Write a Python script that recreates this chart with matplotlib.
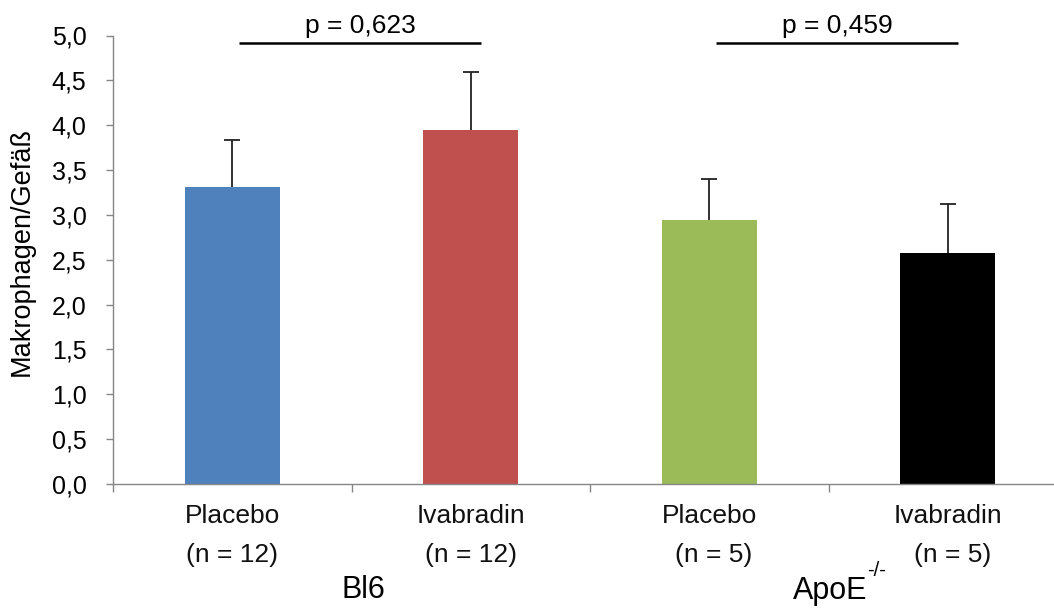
import matplotlib
matplotlib.use("Agg")
import matplotlib.pyplot as plt
from matplotlib.transforms import blended_transform_factory
import numpy as np

# Data
treatments = ["Placebo", "Ivabradin", "Placebo", "Ivabradin"]
n_labels = ["(n = 12)", "(n = 12)", "(n = 5)", "(n = 5)"]
means = [3.31, 3.95, 2.94, 2.57]
sem = [0.53, 0.64, 0.46, 0.55]
groups = ["Bl6", "ApoE"]
group_sup = "-/-"
p_values = ["p = 0,623", "p = 0,459"]
p_pairs = [(0, 1), (2, 3)]
yticks = [0.0, 0.5, 1.0, 1.5, 2.0, 2.5, 3.0, 3.5, 4.0, 4.5, 5.0]
ylabel = "Makrophagen/Gefäß"

bar_colors = ["#4F81BD", "#C0504D", "#9BBB59", "#000000"]

plt.rcParams["font.family"] = ["Liberation Sans", "DejaVu Sans"]

W, H = 1054, 608
fig = plt.figure(figsize=(W / 100, H / 100), dpi=100)
# axes runs past the right edge of the figure, as in the original layout
ax = fig.add_axes([113 / W, 124 / H, 954 / W, 448.5 / H])

x = np.arange(len(means))
ax.bar(x, means, width=0.4, color=bar_colors, zorder=2)
_, caps, _ = ax.errorbar(x, means, yerr=[np.zeros(len(sem)), sem], fmt="none",
                         ecolor="#222222", elinewidth=1.3, capsize=6,
                         capthick=1.3, zorder=3)
caps[0].set_visible(False)  # only the upper whisker gets a cap

ax.set_xlim(-0.5, 3.5)
ax.set_ylim(0, 5)
ax.set_yticks(yticks)
ax.set_yticklabels([f"{v:.1f}".replace(".", ",") for v in yticks])
ax.set_xticks(np.arange(-0.5, 4.0, 1.0))
ax.set_xticklabels([])

for side in ["top", "right"]:
    ax.spines[side].set_visible(False)
for side in ["left", "bottom"]:
    ax.spines[side].set_color("#868686")
    ax.spines[side].set_linewidth(1.0)
ax.tick_params(axis="y", length=5, width=1.0, color="#868686", pad=14,
               labelsize=18, labelcolor="#000000")
ax.tick_params(axis="x", length=6, width=1.0, color="#868686")

def fy(px):
    return 1 - px / H

tr = blended_transform_factory(ax.transData, fig.transFigure)

for i in range(len(means)):
    ax.text(x[i], fy(523), treatments[i], transform=tr, ha="center",
            va="baseline", fontsize=19, color="#111111")
    ax.text(x[i] + (0.02 if i >= 2 else 0.0), fy(562), n_labels[i],
            transform=tr, ha="center", va="baseline", fontsize=19,
            color="#111111")

ax.text(0.55, fy(598), groups[0], transform=tr, ha="center", va="baseline",
        fontsize=22)
ax.text(2.505, fy(599), groups[1], transform=tr, ha="center", va="baseline",
        fontsize=22)
ax.text(2.662, fy(576), group_sup, transform=tr, ha="left", va="baseline",
        fontsize=14.5)

# significance brackets
for (a, b), label in zip(p_pairs, p_values):
    x0, x1 = a + 0.03, b + 0.045
    ax.plot([x0, x1], [4.92, 4.92], color="black", lw=1.8,
            solid_capstyle="butt", clip_on=False, zorder=4)
    ax.text((x0 + x1) / 2, fy(33), label, transform=tr, ha="center",
            va="baseline", fontsize=19)

fig.text(22 / W, fy(251), ylabel, rotation=90, ha="center", va="center",
         fontsize=19.5)

fig.savefig("out.png", dpi=100)
